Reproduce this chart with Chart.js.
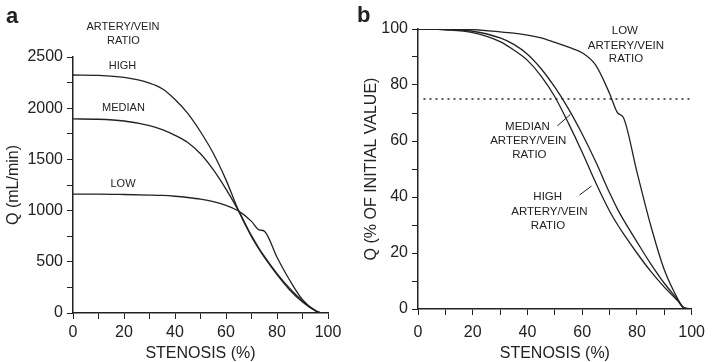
<!DOCTYPE html>
<html>
<head>
<meta charset="utf-8">
<script src="https://cdn.jsdelivr.net/npm/chart.js@4.4.1/dist/chart.umd.min.js"></script>
<style>
  html, body { margin: 0; padding: 0; background: #fff; }
  #wrap { position: relative; width: 713px; height: 362px; }
  .panel { position: absolute; top: 0; height: 362px; }
  #panelA { left: 0; width: 355px; }
  #panelB { left: 353px; width: 360px; }
</style>
</head>
<body>
<div id="wrap">
  <div class="panel" id="panelA"><canvas id="chartA"></canvas></div>
  <div class="panel" id="panelB"><canvas id="chartB"></canvas></div>
</div>
<script>
// Panel a: absolute flow Q (mL/min) against stenosis (%)
const stenosisA = [0, 10, 20, 30, 35, 40, 45, 50, 55, 60, 65, 70, 73, 75, 80, 85, 90, 95, 97, 100];
const highFlow   = [2324, 2320, 2300, 2245, 2190, 2085, 1950, 1770, 1560, 1300, 995, 745, 620, 545, 375, 225, 108, 22, 3, 0];
const medianFlow = [1895, 1892, 1875, 1830, 1790, 1735, 1665, 1555, 1400, 1210, 995, 755, 630, 555, 385, 240, 118, 26, 4, 0];
const lowFlow    = [1160, 1160, 1157, 1152, 1148, 1140, 1128, 1112, 1088, 1050, 995, 895, 812, 800, 545, 320, 130, 22, 3, 0];

// Panel b: flow as % of initial value against stenosis (%)
const stenosisB = [0, 10, 20, 30, 35, 40, 45, 50, 55, 60, 65, 70, 73, 75, 80, 85, 90, 95, 97, 100];
const highPct   = [100, 99.7, 98.7, 95.5, 92.5, 88.8, 83.2, 75.8, 66.3, 56, 45, 35, 30, 27, 20, 13.5, 7.8, 2.8, 0.5, 0];
const medianPct = [100, 99.8, 99.2, 96.8, 94.5, 91, 85.8, 79.2, 71.5, 62.5, 52.5, 41.5, 35.5, 32, 24, 16.2, 9.2, 3.2, 0.6, 0];
const lowPct    = [100, 100, 99.8, 99, 98.5, 97.8, 96.8, 95.2, 93.5, 91.5, 87, 77, 70, 68.5, 49, 30, 14, 3.5, 0.5, 0];

// 75% reference line
const refX = [2, 100];
const refY = [75, 75];

const ink = '#222';
Chart.defaults.font.family = "'Liberation Sans', Arial, Helvetica, sans-serif";
Chart.defaults.color = ink;

function series(xs, ys, extra) {
    return Object.assign({
        data: xs.map((x, i) => ({ x: x, y: ys[i] })),
        borderColor: ink,
        borderWidth: 1.3,
        pointRadius: 0,
        fill: false,
        cubicInterpolationMode: 'monotone'
    }, extra || {});
}

// text labels, leader lines and panel letter
function notesPlugin(cfg) {
    return {
        id: 'notes',
        afterDatasetsDraw(chart) {
            const ctx = chart.ctx;
            const xs = chart.scales.x, ys = chart.scales.y;
            ctx.save();
            ctx.fillStyle = ink;
            ctx.strokeStyle = ink;
            ctx.textAlign = 'center';
            ctx.textBaseline = 'middle';
            ctx.font = cfg.size + "px 'Liberation Sans', Arial, sans-serif";
            cfg.texts.forEach(t => {
                ctx.fillText(t[0], xs.getPixelForValue(t[1]), ys.getPixelForValue(t[2]));
            });
            ctx.lineWidth = 1;
            cfg.leaders.forEach(l => {
                ctx.beginPath();
                ctx.moveTo(xs.getPixelForValue(l[0]), ys.getPixelForValue(l[1]));
                ctx.lineTo(xs.getPixelForValue(l[2]), ys.getPixelForValue(l[3]));
                ctx.stroke();
            });
            ctx.textAlign = 'left';
            ctx.textBaseline = 'alphabetic';
            ctx.font = "bold 22px 'Liberation Sans', Arial, sans-serif";
            ctx.fillText(cfg.letter[0], cfg.letter[1], cfg.letter[2]);
            ctx.restore();
        }
    };
}

function axes(o) {
    return {
        x: {
            type: 'linear', min: 0, max: 100,
            afterFit: s => { s.height = o.xHeight; },
            border: { color: ink, width: 1.5 },
            grid: { drawOnChartArea: false, drawTicks: true, tickLength: 6, tickColor: ink },
            ticks: {
                stepSize: 10, autoSkip: false, maxRotation: 0, padding: o.xPad,
                font: { size: 16 },
                callback: v => (v % 20 === 0 ? v : '')
            },
            title: {
                display: true, text: 'STENOSIS (%)',
                font: { size: 16, lineHeight: 1 }, padding: { top: 0, bottom: 0 }
            }
        },
        y: {
            min: 0, max: o.yMax,
            afterFit: s => { s.width = o.yWidth; },
            border: { color: ink, width: 1.5 },
            grid: { drawOnChartArea: false, drawTicks: true, tickLength: 6, tickColor: ink },
            ticks: {
                stepSize: o.yStep, autoSkip: false, padding: 4,
                font: { size: 16 },
                callback: v => (v % o.yLabelStep === 0 ? v : '')
            },
            title: {
                display: true, text: o.yTitle,
                font: { size: 16, lineHeight: 1.2 }, padding: { top: o.yTitlePad, bottom: 0 }
            }
        }
    };
}

new Chart(document.getElementById('chartA'), {
    type: 'line',
    data: {
        datasets: [
            series(stenosisA, highFlow),
            series(stenosisA, medianFlow),
            series(stenosisA, lowFlow)
        ]
    },
    options: {
        responsive: true,
        maintainAspectRatio: false,
        animation: false,
        layout: { padding: { top: 57, right: 27, left: 0, bottom: 0 } },
        plugins: { legend: { display: false }, tooltip: { enabled: false } },
        scales: axes({ xHeight: 49, xPad: 4, yMax: 2500, yStep: 250, yLabelStep: 500,
                       yWidth: 73, yTitle: 'Q (mL/min)', yTitlePad: 4 })
    },
    plugins: [notesPlugin({
        size: 11,
        texts: [
            ['ARTERY/VEIN', 19.6, 2790],
            ['RATIO', 19.8, 2658],
            ['HIGH', 19.4, 2409],
            ['MEDIAN', 19.8, 1999],
            ['LOW', 19.6, 1260]
        ],
        leaders: [],
        letter: ['a', 6, 23]
    })]
});

new Chart(document.getElementById('chartB'), {
    type: 'line',
    data: {
        datasets: [
            series(stenosisB, highPct),
            series(stenosisB, medianPct),
            series(stenosisB, lowPct),
            series(refX, refY, { borderDash: [2, 4], borderWidth: 1.5, cubicInterpolationMode: 'default' })
        ]
    },
    options: {
        responsive: true,
        maintainAspectRatio: false,
        animation: false,
        layout: { padding: { top: 29, right: 16, left: 0, bottom: 0 } },
        plugins: { legend: { display: false }, tooltip: { enabled: false } },
        scales: axes({ xHeight: 53, xPad: 8, yMax: 100, yStep: 10, yLabelStep: 20,
                       yWidth: 65, yTitle: 'Q (% OF INITIAL VALUE)', yTitlePad: 9 })
    },
    plugins: [notesPlugin({
        size: 11.5,
        texts: [
            ['LOW', 75.6, 99.4],
            ['ARTERY/VEIN', 76, 94.1],
            ['RATIO', 76, 89.2],
            ['MEDIAN', 40, 64.9],
            ['ARTERY/VEIN', 40.3, 60.1],
            ['RATIO', 40.7, 55.1],
            ['HIGH', 47.4, 39.9],
            ['ARTERY/VEIN', 48, 34.8],
            ['RATIO', 47.5, 29.7]
        ],
        leaders: [
            [50.9, 65.4, 55.7, 69.5],
            [59.0, 40.7, 63.4, 43.9]
        ],
        letter: ['b', 4, 22]
    })]
});
</script>
</body>
</html>
